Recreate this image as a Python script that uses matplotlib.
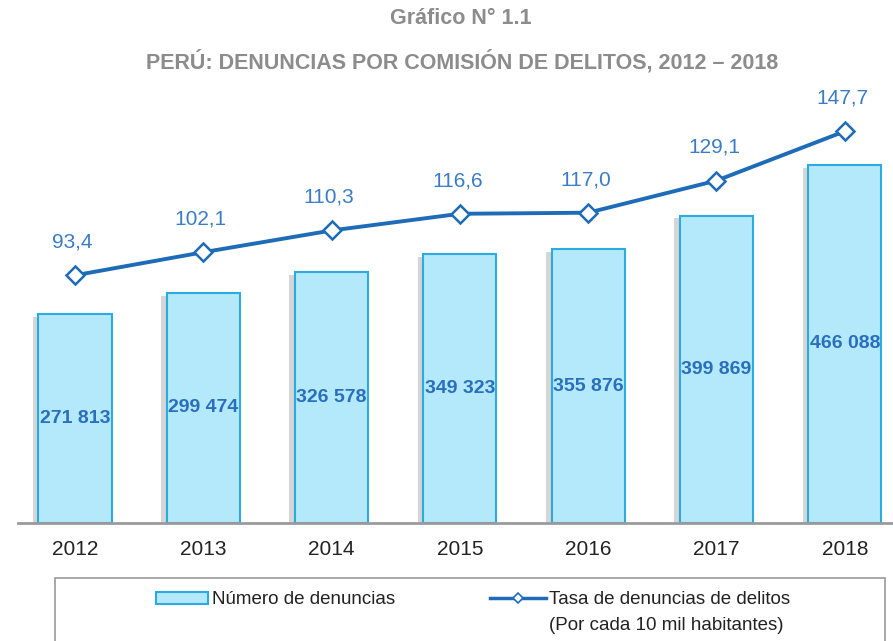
import matplotlib
matplotlib.use("Agg")
import matplotlib.pyplot as plt
import matplotlib.patheffects as pe
from matplotlib.patches import Rectangle
from matplotlib.lines import Line2D

years = ["2012", "2013", "2014", "2015", "2016", "2017", "2018"]
denuncias = [271813, 299474, 326578, 349323, 355876, 399869, 466088]
tasa = [93.4, 102.1, 110.3, 116.6, 117.0, 129.1, 147.7]

bar_face = "#b3e9fb"
bar_edge = "#2aace2"
line_col = "#1e6bb8"
lab_col = "#3a7cc8"

plt.rcParams['font.family'] = ['Liberation Sans', 'DejaVu Sans']

fig = plt.figure(figsize=(8.93, 6.41), dpi=100)
W, H = 893, 641

def fx(px):
    return px / W

def fy(py):
    return 1 - py / H

ax = fig.add_axes([fx(18), fy(523), fx(893) - fx(18), fy(100) - fy(523)])
ax2 = ax.twinx()

x = list(range(len(years)))
bars = ax.bar(x, denuncias, width=0.57, color=bar_face, edgecolor=bar_edge,
              linewidth=1.5, zorder=2)
for b in bars:
    b.set_path_effects([pe.SimplePatchShadow(offset=(-4, -2), shadow_rgbFace="#777777", alpha=0.3),
                        pe.Normal()])

ax.set_ylim(0, 423 * 1301)
ax.set_xlim(-0.444, 6.376)

for xi, v in zip(x, denuncias):
    s = f"{v:,}".replace(",", " ")
    ax.text(xi, v / 2, s, ha="center", va="center", fontsize=14,
            fontweight="bold", color="#2a6fbe", zorder=4)

ax2.plot(x, tasa, color=line_col, linewidth=2.8, marker="D", markersize=9,
         markerfacecolor="white", markeredgecolor=line_col, markeredgewidth=1.8,
         zorder=5)
ax2.set_ylim(0, 159.5)
for xi, v in zip(x, tasa):
    ax2.text(xi - 0.02, v + 12.5, f"{v:.1f}".replace(".", ","), ha="center",
             va="center", fontsize=15, color=lab_col)

for a in (ax, ax2):
    a.set_yticks([])
    for sp in a.spines.values():
        sp.set_visible(False)
ax.spines["bottom"].set_visible(True)
ax.spines["bottom"].set_color("#9a9a9a")
ax.spines["bottom"].set_linewidth(2)
ax.spines["bottom"].set_path_effects([pe.SimplePatchShadow(offset=(0, -1.5), alpha=0.3), pe.Normal()])
ax.set_xticks(x)
ax.set_xticklabels(years, fontsize=15, color="#222222")
ax.tick_params(axis="x", length=0, pad=12)

fig.text(fx(461), fy(18), "Gráfico N° 1.1", ha="center", va="center",
         fontsize=15.5, fontweight="bold", color="#8c8c8c")
fig.text(fx(462), fy(62), "PERÚ: DENUNCIAS POR COMISIÓN DE DELITOS, 2012 – 2018",
         ha="center", va="center", fontsize=15.5, fontweight="bold", color="#8c8c8c")

# legend box, drawn by hand
fig.add_artist(Rectangle((fx(55), fy(660)), fx(885) - fx(55), fy(578) - fy(660),
                         transform=fig.transFigure, fill=False,
                         edgecolor="#9a9a9a", linewidth=1.2))
fig.add_artist(Rectangle((fx(156), fy(604)), fx(208) - fx(156), fy(592) - fy(604),
                         transform=fig.transFigure, facecolor=bar_face,
                         edgecolor=bar_edge, linewidth=1.5))
fig.text(fx(212), fy(599), "Número de denuncias", ha="left", va="center",
         fontsize=13.5, color="#222222")
fig.add_artist(Line2D([fx(490), fx(546)], [fy(598), fy(598)], transform=fig.transFigure,
                      color=line_col, linewidth=2.5))
fig.add_artist(Line2D([fx(518)], [fy(598)], transform=fig.transFigure, marker="D",
                      markersize=5, markerfacecolor="white", markeredgecolor=line_col,
                      markeredgewidth=1.2, color=line_col))
fig.text(fx(549), fy(599), "Tasa de denuncias de delitos", ha="left", va="center",
         fontsize=13.5, color="#222222")
fig.text(fx(549), fy(625), "(Por cada 10 mil habitantes)", ha="left", va="center",
         fontsize=13.5, color="#222222")

fig.savefig("out.png", dpi=100)
